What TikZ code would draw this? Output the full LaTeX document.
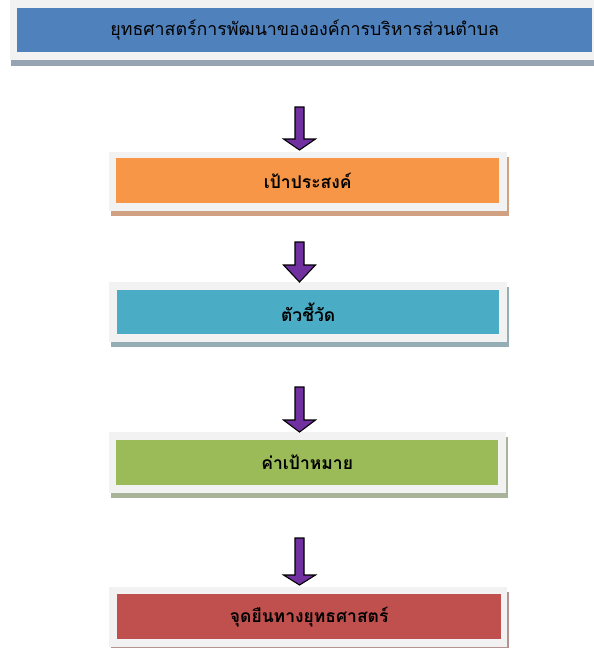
\documentclass[tikz,border=0pt]{standalone}
\usepackage{fontspec}
\newfontfamily\thaifont[Script=Thai]{Loma}
\usetikzlibrary{calc}
\definecolor{frameg}{HTML}{F2F2F2}
\definecolor{cblue}{HTML}{4F81BD}
\definecolor{corange}{HTML}{F79646}
\definecolor{cteal}{HTML}{4BACC6}
\definecolor{cgreen}{HTML}{9BBB59}
\definecolor{cred}{HTML}{C0504D}
\definecolor{sblue}{HTML}{95A3B3}
\definecolor{sorange}{HTML}{D0A183}
\definecolor{steal}{HTML}{95AEB5}
\definecolor{sgreen}{HTML}{A9B39A}
\definecolor{sred}{HTML}{B39290}
\definecolor{apurple}{HTML}{7030A0}
\tikzset{
  framebox/.style={fill=frameg, draw=none},
  stagebox/.style={draw=none, inner sep=0pt, text=black, font=\thaifont\bfseries\fontsize{17.5}{20}\selectfont},
  blockarrow/.style={fill=apurple, draw=black, line width=1.1pt, line join=miter}
}
\begin{document}
\begin{tikzpicture}[x=1pt,y=-1pt]
\useasboundingbox (0,0) rectangle (594,648);
% top box
\fill[sblue] (11,6) rectangle (601,66);
\fill[frameg] (10,0) rectangle (600,60);
\node[stagebox, fill=cblue, minimum width=575pt, minimum height=44pt, anchor=north west,
      font=\thaifont\fontsize{17.8}{20}\selectfont] (top) at (17,8) {ยุทธศาสตร์การพัฒนาขององค์การบริหารส่วนตำบล};
% orange
\fill[sorange] (111,157) rectangle (509,216);
\fill[frameg] (109,152) rectangle (507,211);
\node[stagebox, fill=corange, minimum width=383pt, minimum height=45pt, anchor=north west] (goal) at (116,158) {เป้าประสงค์};
% teal
\fill[steal] (111,287) rectangle (509,347);
\fill[frameg] (109,282) rectangle (507,342);
\node[stagebox, fill=cteal, minimum width=382pt, minimum height=44pt, anchor=north west] (ind) at (117,290) {ตัวชี้วัด};
% green
\fill[sgreen] (111,437) rectangle (508,498);
\fill[frameg] (109,432) rectangle (506,493);
\node[stagebox, fill=cgreen, minimum width=382pt, minimum height=45pt, anchor=north west] (tgt) at (116,440) {ค่าเป้าหมาย};
% red
\fill[sred] (111,592) rectangle (509,652);
\fill[frameg] (109,587) rectangle (507,647);
\node[stagebox, fill=cred, minimum width=384pt, minimum height=45pt, anchor=north west] (pos) at (117,594) {จุดยืนทางยุทธศาสตร์};
% arrows
\coordinate (a1) at (299.5,107);
\draw[blockarrow] (a1) ++(-4.5,0) -- ++(9,0) -- ++(0,32) -- ++(11.5,0) -- ++(-16,11) -- ++(-16,-11) -- ++(11.5,0) -- cycle;
\coordinate (a2) at (299.5,242);
\draw[blockarrow] (a2) ++(-4.5,0) -- ++(9,0) -- ++(0,23) -- ++(11.5,0) -- ++(-16,17) -- ++(-16,-17) -- ++(11.5,0) -- cycle;
\coordinate (a3) at (299.5,387);
\draw[blockarrow] (a3) ++(-4.5,0) -- ++(9,0) -- ++(0,33) -- ++(11.5,0) -- ++(-16,12) -- ++(-16,-12) -- ++(11.5,0) -- cycle;
\coordinate (a4) at (299.5,538);
\draw[blockarrow] (a4) ++(-4.5,0) -- ++(9,0) -- ++(0,37) -- ++(11.5,0) -- ++(-16,10) -- ++(-16,-10) -- ++(11.5,0) -- cycle;
\end{tikzpicture}
\end{document}
